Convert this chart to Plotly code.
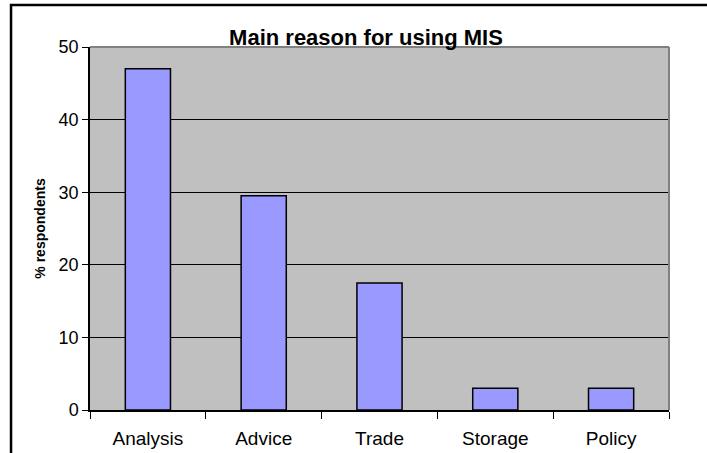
import plotly.graph_objects as go

reasons = ["Analysis", "Advice", "Trade", "Storage", "Policy"]
pct_respondents = [47, 29.5, 17.5, 3, 3]
y_ticks = [0, 10, 20, 30, 40, 50]

data = [
    go.Bar(
        x=reasons,
        y=pct_respondents,
        width=0.39,
        marker=dict(color="#9999ff", line=dict(color="black", width=1.5)),
    )
]

layout = go.Layout(
    width=707,
    height=453,
    margin=dict(l=90, r=38, t=47, b=43),
    paper_bgcolor="white",
    plot_bgcolor="#c0c0c0",
    font=dict(family="Liberation Sans, Arial", color="black"),
    title=dict(
        text="<b>Main reason for using MIS</b>",
        x=366 / 707,
        xanchor="center",
        y=1 - 37 / 453,
        yanchor="middle",
        font=dict(size=22),
    ),
    showlegend=False,
    xaxis=dict(
        type="category",
        tickson="boundaries",
        ticks="outside",
        ticklen=7,
        tickcolor="black",
        showline=True,
        linecolor="black",
        linewidth=1.5,
        showgrid=False,
        tickfont=dict(size=19),
        ticklabelstandoff=10,
        automargin=False,
    ),
    yaxis=dict(
        range=[0, 50],
        tickvals=y_ticks,
        ticks="outside",
        ticklen=6,
        tickcolor="black",
        showline=True,
        linecolor="black",
        linewidth=1.5,
        gridcolor="black",
        gridwidth=1,
        zeroline=False,
        tickfont=dict(size=18),
        title=dict(text="<b>% respondents</b>", font=dict(size=14), standoff=10),
        automargin=False,
    ),
)

fig = go.Figure(data, layout)

# gray plot-area border on top and right, like the spreadsheet chart
fig.add_shape(type="line", xref="paper", yref="paper", x0=0, x1=1, y0=1, y1=1,
              line=dict(color="#808080", width=2))
fig.add_shape(type="line", xref="paper", yref="paper", x0=1, x1=1, y0=0, y1=1,
              line=dict(color="#808080", width=2))
# outer chart frame
fig.add_shape(type="rect", xref="paper", yref="paper",
              x0=-0.1364, x1=1.2, y0=-0.3, y1=1.1157,
              line=dict(color="black", width=2.5), layer="below")

fig.write_html("out.html", config={"displayModeBar": False},
               post_script="document.body.style.margin = '0';")
